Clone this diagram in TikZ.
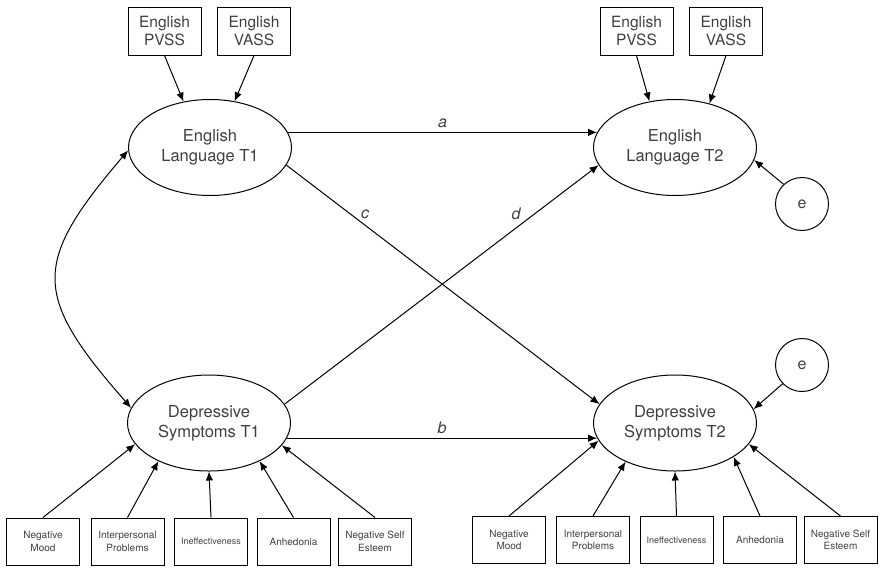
\documentclass[tikz,border=0pt]{standalone}
\usepackage{fontspec}
\setmainfont{TeX Gyre Heros}
\usetikzlibrary{shapes.geometric,arrows.meta}

\tikzset{
  txt/.style={text=black!75},
  latent/.style={ellipse, draw, line width=1pt, inner sep=0pt, txt,
    minimum width=163pt, minimum height=96pt, align=center,
    font=\fontsize{16.5}{20}\selectfont},
  errc/.style={circle, draw, line width=1pt, inner sep=0pt, txt,
    minimum size=53pt, font=\fontsize{16}{19}\selectfont},
  bigbox/.style={rectangle, draw, line width=1pt, inner sep=0pt, txt,
    minimum width=73pt, minimum height=48pt, align=center,
    font=\fontsize{15.5}{18}\selectfont},
  smallbox/.style={rectangle, draw, line width=1pt, inner sep=0pt, txt,
    minimum width=73pt, minimum height=47pt, align=center,
    font=\fontsize{10}{12.5}\selectfont},
  tinytext/.style={font=\fontsize{9}{11}\selectfont},
  arc/.style={-{Latex[length=9pt,width=7.5pt]}, line width=1pt},
  coef/.style={txt, font=\fontsize{16}{19}\selectfont\itshape},
}

\begin{document}
\begin{tikzpicture}[x=1pt, y=-1pt]
\useasboundingbox (0,0) rectangle (882,571);

% latent variables
\node[latent] (ET1) at (210,147.5) {English\\Language T1};
\node[latent] (ET2) at (675,147.5) {English\\Language T2};
\node[latent] (DT1) at (209,423) {Depressive\\Symptoms T1};
\node[latent] (DT2) at (675,423) {Depressive\\Symptoms T2};

% residual terms
\node[errc] (E1) at (802,204) {e};
\node[errc] (E2) at (802,365) {e};

% English indicators
\node[bigbox] (P1) at (164.5,31) {English\\PVSS};
\node[bigbox] (V1) at (254,31) {English\\VASS};
\node[bigbox] (P2) at (636.5,31) {English\\PVSS};
\node[bigbox] (V2) at (726,31) {English\\VASS};

% depression indicators, T1
\node[smallbox] (L1) at (43,541.5) {Negative\\Mood};
\node[smallbox] (L2) at (127.5,541.5) {Interpersonal\\Problems};
\node[smallbox,tinytext] (L3) at (211,541.5) {Ineffectiveness};
\node[smallbox] (L4) at (293.5,541.5) {Anhedonia};
\node[smallbox] (L5) at (375,541.5) {Negative Self\\Esteem};

% depression indicators, T2
\node[smallbox] (R1) at (509,540) {Negative\\Mood};
\node[smallbox] (R2) at (593,540) {Interpersonal\\Problems};
\node[smallbox,tinytext] (R3) at (676.5,540) {Ineffectiveness};
\node[smallbox] (R4) at (760,540) {Anhedonia};
\node[smallbox] (R5) at (840.5,540) {Negative Self\\Esteem};

% measurement paths
\draw[arc] (P1.south) -- (ET1.120);
\draw[arc] (V1.south) -- (ET1.62);
\draw[arc] (P2.south) -- (ET2.119);
\draw[arc] (V2.south) -- (ET2.52);

\draw[arc] (L1.north) -- (DT1.196.5);
\draw[arc] (L2.north) -- (DT1.217);
\draw[arc] (L3.north) -- (DT1.270);
\draw[arc] (L4.north) -- (DT1.323.5);
\draw[arc] (L5.north) -- (DT1.343.5);

\draw[arc] (R1.north) -- (DT2.193);
\draw[arc] (R2.north) -- (DT2.218);
\draw[arc] (R3.north) -- (DT2.270);
\draw[arc] (R4.north) -- (DT2.330);
\draw[arc] (R5.north) -- (DT2.344);

% residuals
\draw[arc] (E1.133) -- (ET2.351);
\draw[arc] (E2.224) -- (DT2.10);

% structural paths
\draw[arc] (ET1.11) -- node[coef, above=1pt] {a} (ET2.169);
\draw[arc] (DT1.349) -- node[coef, above=1pt] {b} (DT2.191);
\draw[arc] (ET1.347) -- (DT2.166);
\draw[arc] (DT1.14) -- (ET2.193);
\node[coef] (lc) at (365,214) {c};
\node[coef] (ld) at (516,214) {d};

% covariance between T1 latents
\coordinate (k1) at (32,263);
\coordinate (k2) at (32,295);
\draw[{Latex[length=9pt,width=7.5pt]}-{Latex[length=9pt,width=7.5pt]}, line width=1pt]
  (ET1.182) .. controls (k1) and (k2) .. (DT1.169);
\end{tikzpicture}
\end{document}
